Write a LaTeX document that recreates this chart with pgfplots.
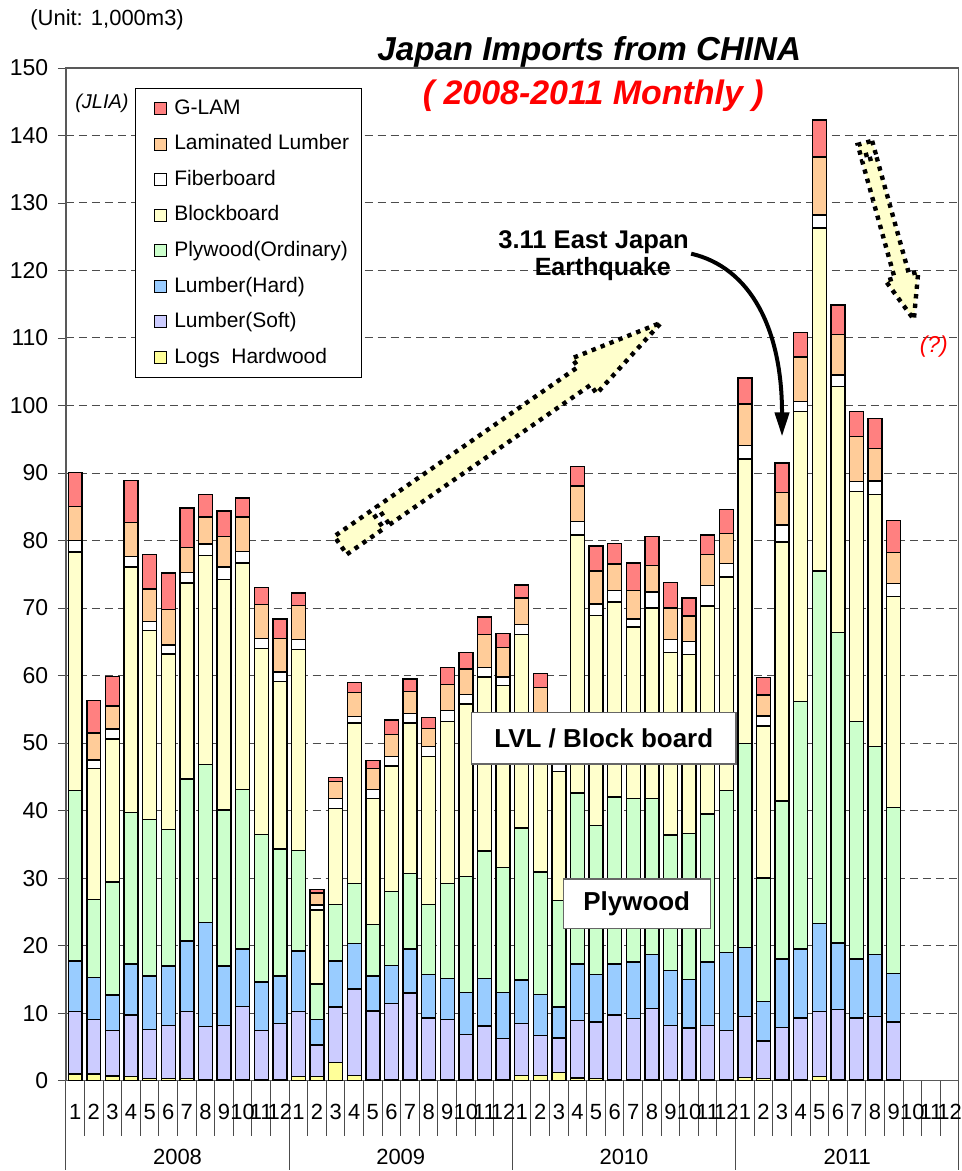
\documentclass[border=0pt]{standalone}
\usepackage{pgfplots}
\pgfplotsset{compat=1.18}
\usepackage{pgfplotstable}
\usepackage{fontspec}
\setmainfont{Liberation Sans}
\usetikzlibrary{arrows.meta}

\definecolor{cGlam}{RGB}{255,128,128}
\definecolor{cLam}{RGB}{255,204,153}
\definecolor{cFib}{RGB}{255,255,255}
\definecolor{cBlock}{RGB}{255,255,204}
\definecolor{cPly}{RGB}{204,255,204}
\definecolor{cHard}{RGB}{153,204,255}
\definecolor{cSoft}{RGB}{204,204,255}
\definecolor{cLogs}{RGB}{255,255,153}

% month slot, logs, soft, hard, plywood, blockboard, fiberboard, laminated, g-lam
\pgfplotstableread{
x  logs soft hard ply  block fiber lam glam
1  1.0  9.2  7.5  25.3 35.3  1.7   5.0 5.1
2  1.0  8.1  6.2  11.5 19.4  1.3   4.0 4.8
3  0.7  6.7  5.3  16.7 21.2  1.5   3.4 4.4
4  0.6  9.1  7.6  22.4 36.4  1.5   5.1 6.2
5  0.3  7.3  7.9  23.2 28.0  1.3   4.8 5.1
6  0.3  7.9  8.8  20.2 26.0  1.3   5.3 5.4
7  0.3  9.9  10.5 24.0 29.0  1.6   3.7 5.8
8  0.1  7.9  15.4 23.4 31.0  1.7   4.0 3.3
9  0.2  8.0  8.8  23.1 34.1  1.9   4.5 3.8
10 0.2  10.8 8.5  23.6 33.6  1.7   5.1 2.8
11 0.2  7.2  7.2  21.9 27.5  1.5   5.0 2.5
12 0.2  8.3  7.0  18.8 24.8  1.4   5.0 2.9
13 0.6  9.6  9.0  14.9 29.8  1.4   5.1 1.8
14 0.6  4.7  3.8  5.2  11.0  0.7   1.8 0.5
15 2.7  8.2  6.8  8.4  14.2  1.5   2.5 0.6
16 0.8  12.8 6.7  8.9  23.8  0.9   3.6 1.5
17 0.2  10.1 5.2  7.6  18.7  1.3   3.1 1.2
18 0.2  11.2 5.7  10.9 18.6  1.4   3.3 2.1
19 0.2  12.8 6.5  11.2 22.3  1.4   3.2 1.9
20 0.2  9.1  6.4  10.4 21.9  1.5   2.7 1.6
21 0.2  8.9  6.0  14.1 24.0  1.6   3.9 2.5
22 0.2  6.6  6.3  17.1 25.6  1.4   3.8 2.4
23 0.2  7.9  7.0  18.9 25.8  1.4   4.9 2.6
24 0.2  6.0  6.9  18.5 26.9  1.3   4.4 2.0
25 0.8  7.7  6.4  22.5 28.7  1.5   3.9 1.9
26 0.8  5.9  6.1  18.1 22.1  1.3   3.9 2.1
27 1.2  5.1  4.6  15.8 19.1  1.8   2.8 1.8
28 0.4  8.5  8.4  25.3 38.2  2.0   5.3 2.9
29 0.3  8.4  7.0  22.1 31.1  1.7   4.9 3.7
30 0.2  9.5  7.6  24.7 28.9  1.7   3.9 3.1
31 0.2  9.0  8.4  24.2 25.4  1.2   4.2 4.1
32 0.2  10.5 8.0  23.1 28.2  2.4   3.9 4.3
33 0.2  8.0  8.1  20.1 27.0  1.9   4.7 3.8
34 0.2  7.6  7.2  21.6 26.5  1.9   3.8 2.7
35 0.2  8.0  9.4  21.9 30.8  3.0   4.6 2.9
36 0.2  7.2  11.6 24.0 31.6  2.0   4.4 3.6
37 0.5  9.0  10.2 30.2 42.2  2.0   6.1 3.9
38 0.3  5.6  5.8  18.3 22.5  1.5   3.1 2.6
39 0.2  7.7  10.1 23.4 38.4  2.5   4.8 4.4
40 0.2  9.1  10.2 36.7 42.9  1.5   6.6 3.6
41 0.6  9.6  13.1 52.2 50.8  1.9   8.6 5.5
42 0.2  10.3 9.9  46.0 36.4  1.7   6.0 4.4
43 0.2  9.1  8.7  35.2 34.1  1.4   6.7 3.7
44 0.2  9.3  9.2  30.8 37.3  2.0   4.8 4.5
45 0.1  8.6  7.2  24.6 31.2  1.9   4.6 4.8
}\imports

\tikzset{
  px/.style={x=0.5pt, y=-0.5pt, shift={(-33pt,541pt)}},
  fatarrow/.style={fill=cBlock, draw=black, line width=2.2pt, dash pattern=on 2.2pt off 2.6pt, line join=miter},
}

\begin{document}
\begin{tikzpicture}
\begin{scope}[px]
  \useasboundingbox (0,0) rectangle (962,1171);
\end{scope}

\begin{axis}[
  scale only axis, width=447pt, height=507pt,
  ybar stacked, bar width=0.75,
  xmin=0.5, xmax=48.5, ymin=0, ymax=150,
  xtick=\empty,
  ytick={0,10,...,150},
  ytick pos=left, tick align=outside, major tick length=4pt,
  tick style={black!70},
  yticklabel style={font=\fontsize{11.5}{13}\selectfont, xshift=-1.3pt},
  /pgf/number format/assume math mode=true,
  ymajorgrids, grid style={black!70, dash pattern=on 4pt off 2.5pt, line width=0.5pt},
  axis line style={black!65, line width=0.6pt},
  every axis plot/.append style={draw=black, line width=0.7pt},
  legend image code/.code={\path[draw=none, fill=none] (0pt,0pt) -- (13.5pt,0pt);
    \draw[#1, line width=0.5pt] (5.5pt,-3pt) rectangle (11.5pt,3pt);},
  reverse legend,
  legend cell align=left,
  legend style={at={(0.0772,0.9803)}, anchor=north west, draw=black, line width=0.5pt,
    fill=white, font=\fontsize{10.5}{12.6}\selectfont, inner xsep=4pt, inner ysep=3pt,
    row sep=3.5pt, nodes={inner sep=2pt, text height=8pt, text depth=2.3pt}},
]
\addplot[fill=cLogs]  table[x=x, y=logs]  {\imports}; \addlegendentry{Logs\ \ Hardwood}
\addplot[fill=cSoft]  table[x=x, y=soft]  {\imports}; \addlegendentry{Lumber(Soft)}
\addplot[fill=cHard]  table[x=x, y=hard]  {\imports}; \addlegendentry{Lumber(Hard)}
\addplot[fill=cPly]   table[x=x, y=ply]   {\imports}; \addlegendentry{Plywood(Ordinary)}
\addplot[fill=cBlock] table[x=x, y=block] {\imports}; \addlegendentry{Blockboard}
\addplot[fill=cFib]   table[x=x, y=fiber] {\imports}; \addlegendentry{Fiberboard}
\addplot[fill=cLam]   table[x=x, y=lam]   {\imports}; \addlegendentry{Laminated Lumber}
\addplot[fill=cGlam]  table[x=x, y=glam]  {\imports}; \addlegendentry{G-LAM}
\end{axis}

\begin{scope}[px]
  % month / year axis
  \foreach \k in {0,...,48}
    \draw[black!70, line width=0.5pt] (66+\k*18.625,1082) -- (66+\k*18.625,1137);
  \foreach \k in {0,12,24,36,48}
    \draw[black!70, line width=0.5pt] (66+\k*18.625,1082) -- (66+\k*18.625,1171);
  \foreach \yr [count=\i from 0] in {2008,2009,2010,2011} {
    \node[font=\fontsize{11}{13}\selectfont] at (66+\i*12*18.625+6*18.625,1158) {\yr};
    \foreach \m in {1,...,12}
      \node[font=\fontsize{11}{13}\selectfont, inner sep=0pt] at (66+\i*12*18.625+\m*18.625-9.31,1113) {\m};
  }

  % titles and notes
  \node[anchor=base, font=\bfseries\itshape\fontsize{16.6}{20}\selectfont] at (590,61) {Japan Imports from CHINA};
  \node[anchor=base, text=red, font=\bfseries\itshape\fontsize{17}{20}\selectfont] at (594,105) {( 2008-2011 Monthly )};
  \node[anchor=base west, inner sep=0pt, font=\fontsize{11}{13}\selectfont] at (30,26) {(Unit: 1,000m3)};
  \node[anchor=base west, inner sep=0pt, font=\itshape\fontsize{10}{12}\selectfont] at (75,109) {(JLIA)};
  \node[text=red, font=\itshape\fontsize{11.5}{13}\selectfont] at (935,347) {(?)};

  % earthquake note
  \node[anchor=base east, inner sep=0pt, font=\bfseries\fontsize{12.8}{15}\selectfont] at (690,249) {3.11 East Japan};
  \node[anchor=base east, inner sep=0pt, font=\bfseries\fontsize{12.5}{15}\selectfont] at (672,276) {Earthquake};
  \draw[line width=2pt, -{Triangle[length=12pt,width=7pt]}] (692,254) .. controls (752,268) and (783,330) .. (783,437);

  % label boxes
  \draw[fill=white, draw=black!60, line width=0.6pt] (472,713) rectangle (737,765);
  \node[font=\bfseries\fontsize{13}{15}\selectfont] at (604.5,739) {LVL / Block board};
  \draw[fill=white, draw=black!60, line width=0.6pt] (564,880) rectangle (711,930);
  \node[font=\bfseries\fontsize{13}{15}\selectfont] at (637.5,905) {Plywood};

  % rising arrow
  \draw[fatarrow] (347.3,555.0) -- (384.2,529.3) -- (371.7,511.3) -- (334.7,537.0) -- cycle;
  \draw[fatarrow] (390.0,525.3) -- (591.4,385.4) -- (597.4,394.1) -- (662,323)
     -- (572.8,358.7) -- (578.8,367.4) -- (377.4,507.3) -- cycle;
  % falling arrow
  \draw[fatarrow] (873.2,141.0) -- (876.4,152.6) -- (862.0,156.6) -- (858.8,145.0) -- cycle;
  \draw[fatarrow] (877.7,157.4) -- (910.2,274.6) -- (919.4,272.1) -- (915,320)
     -- (886.6,281.1) -- (895.8,278.6) -- (863.3,161.4) -- cycle;
\end{scope}
\end{tikzpicture}
\end{document}
